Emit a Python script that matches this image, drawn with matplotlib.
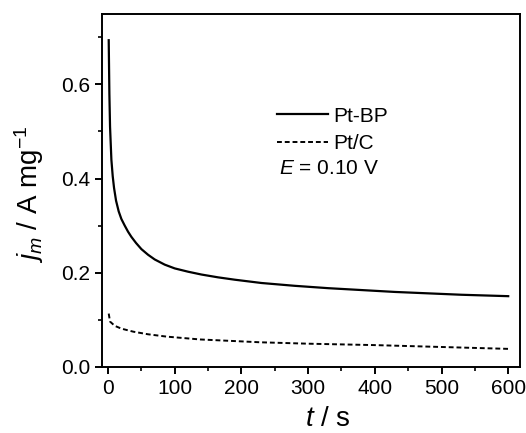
import matplotlib
matplotlib.use("Agg")
import matplotlib.pyplot as plt
from matplotlib.ticker import MultipleLocator

plt.rcParams['font.family'] = ['Liberation Sans', 'DejaVu Sans']
plt.rcParams['mathtext.fontset'] = 'custom'
plt.rcParams['mathtext.rm'] = 'Liberation Sans'
plt.rcParams['mathtext.it'] = 'Liberation Sans:italic'

# Pt-BP chronoamperometry
t_bp = [1, 2, 3, 5, 7, 9, 12, 16, 20, 25, 30, 35, 42, 50, 60, 70, 85, 100, 120, 140, 165,
        190, 230, 280, 330, 380, 430, 480, 530, 600]
j_bp = [0.694, 0.58, 0.51, 0.44, 0.405, 0.38, 0.353, 0.33, 0.314, 0.30, 0.287, 0.276, 0.263,
        0.250, 0.238, 0.228, 0.217, 0.209, 0.202, 0.196, 0.190, 0.185, 0.178, 0.172, 0.167,
        0.163, 0.159, 0.156, 0.153, 0.150]

# Pt/C
t_c = [1, 3, 10, 20, 38, 60, 88, 138, 188, 228, 300, 400, 500, 600]
j_c = [0.113, 0.096, 0.087, 0.081, 0.0745, 0.069, 0.064, 0.058, 0.0547, 0.052, 0.049, 0.046,
       0.042, 0.038]

xticks = [0, 100, 200, 300, 400, 500, 600]
yticks = [0.0, 0.2, 0.4, 0.6]

fig = plt.figure(figsize=(5.26, 4.33), dpi=100)
ax = fig.add_axes([0.194, 0.153, 0.795, 0.815])

ax.plot(t_bp, j_bp, color='black', lw=1.6, label='Pt-BP')
ax.plot(t_c, j_c, color='black', lw=1.4, linestyle=(0, (2.5, 1.5)), label='Pt/C')

ax.set_xlim(-9, 618)
ax.set_ylim(0, 0.75)
ax.set_xticks(xticks)
ax.set_yticks(yticks)
ax.set_yticklabels(['%.1f' % v for v in yticks])
ax.xaxis.set_minor_locator(MultipleLocator(50))
ax.yaxis.set_minor_locator(MultipleLocator(0.1))
ax.tick_params(which='major', direction='out', length=5, width=1.4, labelsize=15, pad=3.5)
ax.tick_params(which='minor', direction='out', length=3, width=1.2)
for s in ax.spines.values():
    s.set_linewidth(1.4)

ax.set_xlabel('$t$ / s', fontsize=20)
ax.xaxis.set_label_coords(0.541, -0.112)
ax.set_ylabel('$j_m$ / A mg$^{-1}$', fontsize=20)
ax.yaxis.set_label_coords(-0.135, 0.49)

ax.legend(loc='upper left', bbox_to_anchor=(0.419, 0.737), frameon=False, fontsize=15,
          handlelength=2.45, handletextpad=0.24, borderpad=0, borderaxespad=0, labelspacing=0.42)
ax.text(0.4234, 0.563, '$E$ = 0.10 V', transform=ax.transAxes, fontsize=15, va='center', ha='left')

fig.savefig('out.png', dpi=100)
